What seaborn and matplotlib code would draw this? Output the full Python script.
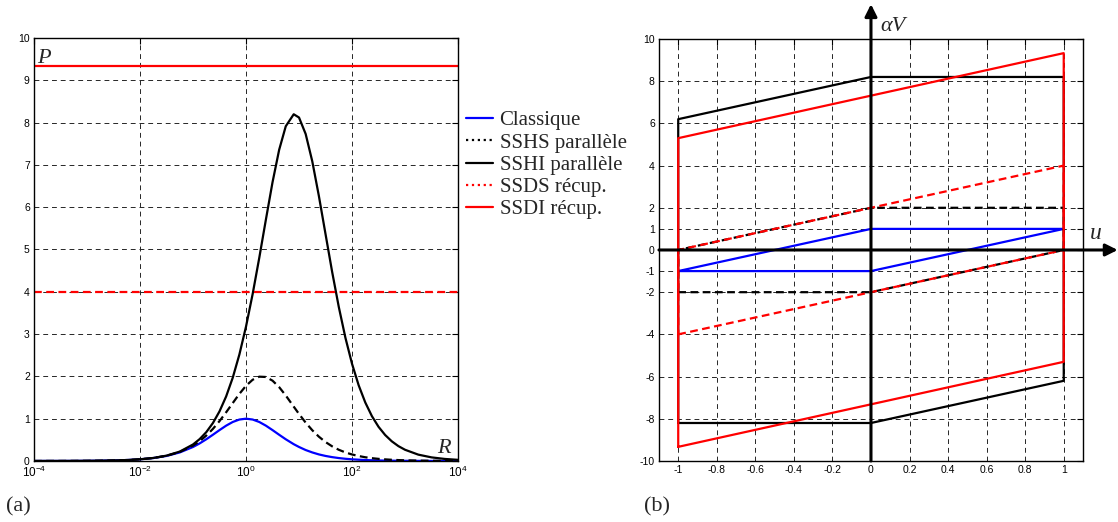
import numpy as np
import pandas as pd
import seaborn as sns
import matplotlib.pyplot as plt
from matplotlib.lines import Line2D

# (a) puissance recuperee P en fonction de R
r_exp = [-4, -3.75, -3.5, -3.25, -3, -2.75, -2.5, -2.25, -2, -1.75, -1.5, -1.25,
         -1, -0.875, -0.75, -0.625, -0.5, -0.375, -0.25, -0.125, 0, 0.125, 0.25, 0.375,
         0.5, 0.625, 0.75, 0.9, 1, 1.125, 1.25, 1.375, 1.5, 1.625, 1.75, 1.875,
         2, 2.125, 2.25, 2.375, 2.5, 2.625, 2.75, 2.875, 3, 3.25, 3.5, 3.75, 4]
p_classique = [0.000, 0.001, 0.001, 0.002, 0.004, 0.007, 0.013, 0.022, 0.039, 0.069, 0.119, 0.202,
               0.331, 0.415, 0.513, 0.620, 0.730, 0.835, 0.922, 0.980, 1.000, 0.980, 0.922, 0.835,
               0.730, 0.620, 0.513, 0.397, 0.331, 0.259, 0.202, 0.155, 0.119, 0.091, 0.069, 0.052,
               0.039, 0.030, 0.022, 0.017, 0.013, 0.009, 0.007, 0.005, 0.004, 0.002, 0.001, 0.001, 0.000]
p_sshs = [0.000, 0.001, 0.001, 0.002, 0.004, 0.007, 0.013, 0.022, 0.040, 0.070, 0.123, 0.213,
          0.363, 0.469, 0.600, 0.758, 0.943, 1.151, 1.370, 1.587, 1.778, 1.920, 1.993, 1.986,
          1.899, 1.746, 1.548, 1.285, 1.111, 0.907, 0.727, 0.574, 0.448, 0.346, 0.265, 0.202,
          0.154, 0.117, 0.088, 0.066, 0.050, 0.038, 0.028, 0.021, 0.016, 0.009, 0.005, 0.003, 0.002]
p_sshi = [0.000, 0.001, 0.001, 0.002, 0.004, 0.007, 0.013, 0.022, 0.040, 0.071, 0.126, 0.222,
          0.390, 0.517, 0.681, 0.896, 1.173, 1.526, 1.970, 2.518, 3.178, 3.946, 4.803, 5.707,
          6.589, 7.356, 7.914, 8.197, 8.120, 7.732, 7.085, 6.262, 5.364, 4.470, 3.643, 2.914,
          2.297, 1.790, 1.383, 1.060, 0.808, 0.614, 0.465, 0.351, 0.265, 0.150, 0.085, 0.048, 0.027]
r_flat = [1e-4, 1e4]
p_ssds = [4.0, 4.0]
p_ssdi = [9.33, 9.33]

# (b) cycles alpha*V en fonction de u
u_classique = [-1, 0, 1, 0, -1]
v_classique = [-1, 1, 1, -1, -1]
u_sshs = [-1, 0, 1, 1, 0, -1, -1]
v_sshs = [-2, -2, 0, 2, 2, 0, -2]
u_sshi = [-1, 0, 1, 1, 0, -1, -1]
v_sshi = [-8.2, -8.2, -6.2, 8.2, 8.2, 6.2, -8.2]
u_ssds = [-1, 1, 1, -1, -1]
v_ssds = [-4, 0, 4, 0, -4]
u_ssdi = [-1, 1, 1, -1, -1]
v_ssdi = [-9.33, -5.3, 9.33, 5.3, -9.33]

labels = ["Classique", "SSHS parallèle", "SSHI parallèle", "SSDS récup.", "SSDI récup."]
xticks_b = [-1, -0.8, -0.6, -0.4, -0.2, 0, 0.2, 0.4, 0.6, 0.8, 1]
yticks_b = [-10, -8, -6, -4, -2, -1, 0, 1, 2, 4, 6, 8, 10]

sns.set_theme(style="white")
plt.rcParams['font.family'] = ['Liberation Sans', 'DejaVu Sans']
plt.rcParams['mathtext.fontset'] = 'custom'
plt.rcParams['mathtext.rm'] = 'Liberation Sans'
plt.rcParams['mathtext.it'] = 'Liberation Sans:italic'
plt.rcParams['axes.unicode_minus'] = False
plt.rcParams['xtick.direction'] = 'in'
plt.rcParams['ytick.direction'] = 'in'

fig = plt.figure(figsize=(11.18, 5.22), dpi=100)
ax1 = fig.add_axes([0.0304, 0.1169, 0.3793, 0.8103])
ax2 = fig.add_axes([0.5894, 0.1169, 0.3793, 0.8084])

grid_kw = dict(color="0.15", linestyle=(0, (5, 4)), linewidth=0.7)
lw = 1.6
dash = (3.5, 2)

R = 10.0 ** np.array(r_exp)
sns.lineplot(x=R, y=p_classique, color="blue", lw=lw, ax=ax1, estimator=None)
sns.lineplot(x=R, y=p_sshs, color="black", lw=lw, ax=ax1, estimator=None)
ax1.lines[-1].set_dashes(dash)
sns.lineplot(x=R, y=p_sshi, color="black", lw=lw, ax=ax1, estimator=None)
sns.lineplot(x=r_flat, y=p_ssds, color="red", lw=lw, ax=ax1, estimator=None)
ax1.lines[-1].set_dashes(dash)
sns.lineplot(x=r_flat, y=p_ssdi, color="red", lw=lw, ax=ax1, estimator=None)

ax1.set_xscale("log")
ax1.set_xlim(1e-4, 1e4)
ax1.set_ylim(0, 10)
ax1.set_xticks([1e-4, 1e-2, 1e0, 1e2, 1e4])
ax1.xaxis.set_minor_locator(plt.NullLocator())
ax1.set_yticks(range(0, 11))
ax1.grid(True, **grid_kw)
ax1.text(0.008, 0.94, "P", transform=ax1.transAxes, fontsize=16, style="italic",
         family="Liberation Serif", va="baseline")
ax1.text(0.95, 0.02, "R", transform=ax1.transAxes, fontsize=16, style="italic",
         family="Liberation Serif", va="baseline")

sns.lineplot(x=u_classique, y=v_classique, sort=False, estimator=None, color="blue", lw=lw, ax=ax2)
sns.lineplot(x=u_sshs, y=v_sshs, sort=False, estimator=None, color="black", lw=lw, ax=ax2)
ax2.lines[-1].set_dashes(dash)
sns.lineplot(x=u_sshi, y=v_sshi, sort=False, estimator=None, color="black", lw=lw, ax=ax2)
sns.lineplot(x=u_ssds, y=v_ssds, sort=False, estimator=None, color="red", lw=lw, ax=ax2)
ax2.lines[-1].set_dashes(dash)
sns.lineplot(x=u_ssdi, y=v_ssdi, sort=False, estimator=None, color="red", lw=lw, ax=ax2)

ax2.set_xlim(-1.1, 1.1)
ax2.set_ylim(-10, 10)
ax2.set_xticks(xticks_b)
ax2.set_xticklabels([f"{t:g}" for t in xticks_b])
ax2.set_yticks(yticks_b)
ax2.grid(True, **grid_kw)

# axes fleches u et alpha V
ax2.annotate("", xy=(1.28, 0), xytext=(-1.1, 0), annotation_clip=False,
             arrowprops=dict(arrowstyle="-|>", color="black", lw=2.2, mutation_scale=18,
                             shrinkA=0, shrinkB=0))
ax2.annotate("", xy=(0, 11.65), xytext=(0, -10), annotation_clip=False,
             arrowprops=dict(arrowstyle="-|>", color="black", lw=2.2, mutation_scale=18,
                             shrinkA=0, shrinkB=0))
ax2.text(0.05, 10.4, "αV", fontsize=16, style="italic", family="Liberation Serif",
         va="baseline", clip_on=False)
ax2.text(1.135, 0.5, "u", fontsize=17, style="italic", family="Liberation Serif",
         va="baseline", clip_on=False)

for ax in (ax1, ax2):
    ax.tick_params(which="both", top=True, right=True, length=4, width=0.8,
                   labelsize=7.5, colors="black", pad=3)
    for s in ax.spines.values():
        s.set_color("black")
        s.set_linewidth(1.0)
    ax.set_xlabel("")
    ax.set_ylabel("")
ax1.tick_params(axis="x", labelsize=8.5)

handles = [Line2D([], [], color="blue", lw=lw),
           Line2D([], [], color="black", lw=lw, ls=":"),
           Line2D([], [], color="black", lw=lw),
           Line2D([], [], color="red", lw=lw, ls=":"),
           Line2D([], [], color="red", lw=lw)]
fig.legend(handles, labels, loc="upper left", bbox_to_anchor=(0.417, 0.788), frameon=False,
           borderaxespad=0, borderpad=0, handlelength=1.3, handletextpad=0.3,
           labelspacing=0.13, prop={"family": "Liberation Serif", "size": 15})

fig.text(0.005, 0.02, "(a)", fontsize=16, family="Liberation Serif", va="baseline")
fig.text(0.576, 0.02, "(b)", fontsize=16, family="Liberation Serif", va="baseline")

fig.savefig("out.png", dpi=100)
